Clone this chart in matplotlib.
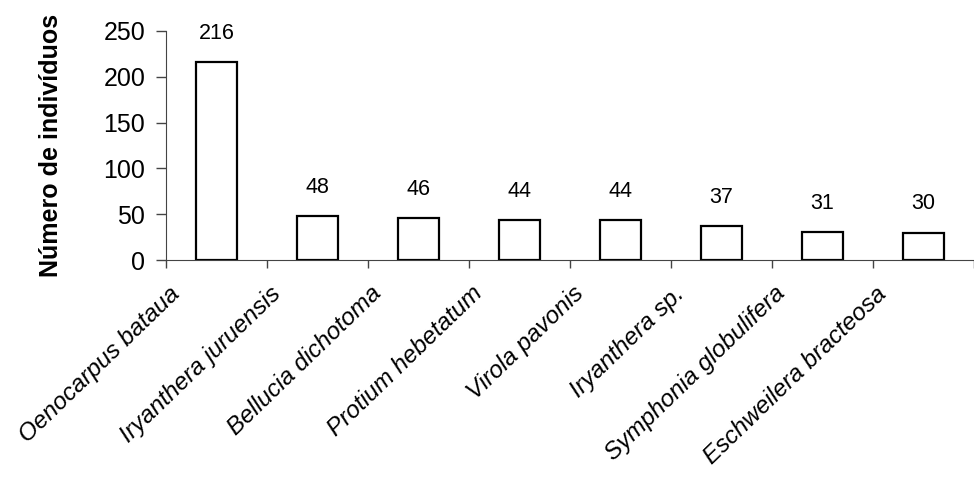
import numpy as np
import matplotlib
matplotlib.use("Agg")
import matplotlib.pyplot as plt
import matplotlib.transforms as mtransforms

plt.rcParams["font.family"] = ["Liberation Sans", "DejaVu Sans"]

# data
species = [
    "Oenocarpus bataua",
    "Iryanthera juruensis",
    "Bellucia dichotoma",
    "Protium hebetatum",
    "Virola pavonis",
    "Iryanthera sp.",
    "Symphonia globulifera",
    "Eschweilera bracteosa",
]
counts = [216, 48, 46, 44, 44, 37, 31, 30]
y_ticks = [0, 50, 100, 150, 200, 250]

fig = plt.figure(figsize=(9.74, 4.82), dpi=100)
ax = fig.add_axes([166 / 974, 1 - 260 / 482, 1 - 166 / 974, (260 - 31) / 482])

x = np.arange(len(species))
bars = ax.bar(x, counts, width=0.4, color="white", edgecolor="black", linewidth=1.6)

# value labels above the bars
for xi, v in zip(x, counts):
    ax.annotate(str(v), (xi, v), xytext=(0, 13), textcoords="offset points",
                ha="center", va="bottom", fontsize=15.5)

ax.set_xlim(-0.5, 7.47)
ax.set_ylim(0, 250)
ax.set_yticks(y_ticks)
ax.tick_params(axis="y", labelsize=18, length=7, width=1, direction="out", pad=8)

# ticks sit on the category boundaries, labels are separate texts
ax.set_xticks(np.arange(-0.5, len(species), 1.0))
ax.set_xticklabels([])
ax.tick_params(axis="x", length=6, width=1, direction="out")

lbl_trans = ax.get_xaxis_transform() + mtransforms.ScaledTranslation(0, -22 / 100, fig.dpi_scale_trans)
for xi, name in zip(x, species):
    ax.text(xi - 0.32, 0, name, transform=lbl_trans, rotation=44, fontsize=17.5,
            fontstyle="italic", ha="right", va="top")

for side in ["top", "right"]:
    ax.spines[side].set_visible(False)
ax.spines["left"].set_color("#444444")
ax.spines["bottom"].set_color("#444444")
ax.tick_params(colors="#444444", labelcolor="black")

ax.set_ylabel("Número de indivíduos", fontsize=18, fontweight="bold", labelpad=29)

fig.savefig("out.png", dpi=100)
